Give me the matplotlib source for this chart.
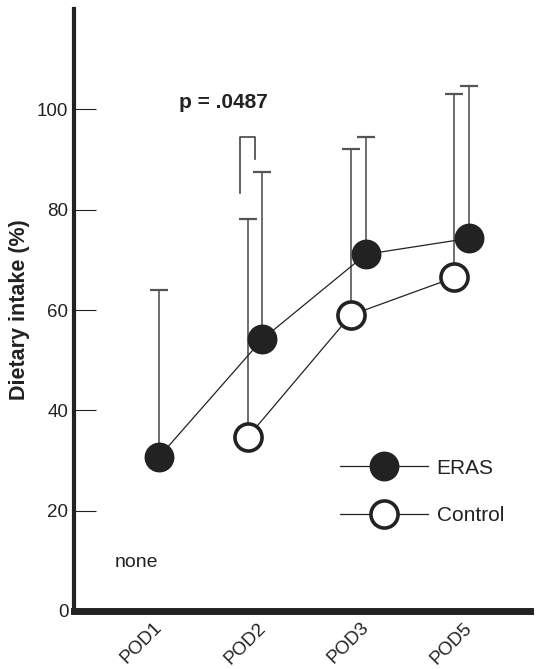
import numpy as np
import matplotlib
matplotlib.use("Agg")
import matplotlib.pyplot as plt
from matplotlib.lines import Line2D
from matplotlib.transforms import ScaledTranslation

plt.rcParams['font.family'] = ['Liberation Sans', 'DejaVu Sans']

categories = ['POD1', 'POD2', 'POD3', 'POD5']
eras_mean = [30.7, 54.2, 71.1, 74.3]
eras_upper = [63.9, 87.5, 94.5, 104.7]
control_mean = [np.nan, 34.6, 59.0, 66.5]
control_upper = [np.nan, 78.1, 92.1, 103.1]
yticks = [0, 20, 40, 60, 80, 100]
p_text = 'p = .0487'
none_text = 'none'

dark = '#222222'
barc = '#555555'

fig = plt.figure(figsize=(5.36, 6.69), dpi=100)
ax = fig.add_axes([0.138, 0.0867, 0.851, 0.8998])

x = np.arange(len(categories))
off = 0.072
xe = x + off
xc = x - off

em = np.array(eras_mean)
cm = np.array(control_mean)
eu = np.array(eras_upper) - em
cu = np.array(control_upper) - cm

# error bars (upper only)
ax.errorbar(xe, em, yerr=[np.zeros_like(eu), eu], fmt='none', ecolor=barc,
            elinewidth=1.2, capsize=6.5, capthick=1.6, zorder=2)
mask = ~np.isnan(cm)
ax.errorbar(xc[mask], cm[mask], yerr=[np.zeros(mask.sum()), cu[mask]], fmt='none',
            ecolor=barc, elinewidth=1.2, capsize=6.5, capthick=1.6, zorder=2)

# lines and markers
ax.plot(xe, em, '-', color=dark, lw=0.9, zorder=3)
ax.plot(xc[mask], cm[mask], '-', color=dark, lw=0.9, zorder=3)
ax.plot(xe, em, 'o', ms=20.5, mfc=dark, mec=dark, mew=1, zorder=4)
ax.plot(xc[mask], cm[mask], 'o', ms=19.5, mfc='white', mec=dark, mew=2.6, zorder=4)

# significance bracket
bx0, bx1 = x[1] - 0.145, x[1] + 0.005
ax.plot([bx0, bx0, bx1, bx1], [83.3, 94.5, 94.5, 90.1], color='#444444', lw=1.2, zorder=2)
ax.text(0.69, 101.3, p_text, ha='center', va='center', fontsize=15, fontweight='bold', color=dark)
ax.text(-0.146, 9.6, none_text, ha='center', va='center', fontsize=14, color=dark)

ax.set_xlim(-0.75, 3.66)
ax.set_ylim(0, 120)
ax.set_yticks(yticks)
ax.set_yticklabels([str(v) for v in yticks], fontsize=13.5, color=dark)
ax.tick_params(axis='y', direction='in', length=16, width=0.8, color=dark, pad=4)
ax.set_xticks(x)
ax.set_xticklabels(categories, rotation=45, ha='right', rotation_mode='anchor',
                   fontsize=13.5, color=dark)
ax.tick_params(axis='x', length=0, pad=6)
shift = ScaledTranslation(2 / 100, 0, fig.dpi_scale_trans)
for lab in ax.get_xticklabels():
    lab.set_transform(lab.get_transform() + shift)

for s in ['top', 'right']:
    ax.spines[s].set_visible(False)
ax.spines['left'].set_linewidth(3)
ax.spines['bottom'].set_linewidth(5)
ax.spines['left'].set_color(dark)
ax.spines['bottom'].set_color(dark)

ax.set_ylabel('Dietary intake (%)', fontsize=15.5, fontweight='bold', color=dark)
ax.yaxis.set_label_coords(-0.096, 0.5)

handles = [
    Line2D([], [], color=dark, lw=0.9, marker='o', ms=20.5, mfc=dark, mec=dark, mew=1),
    Line2D([], [], color=dark, lw=0.9, marker='o', ms=19.5, mfc='white', mec=dark, mew=2.6),
]
leg = ax.legend(handles, ['ERAS', 'Control'], loc='center left',
                bbox_to_anchor=(0.584, 0.198), frameon=False, fontsize=15,
                handlelength=4.2, handletextpad=0.42, labelspacing=1.35,
                borderpad=0, borderaxespad=0, numpoints=1)
for t in leg.get_texts():
    t.set_color(dark)

fig.savefig('out.png', dpi=100)
